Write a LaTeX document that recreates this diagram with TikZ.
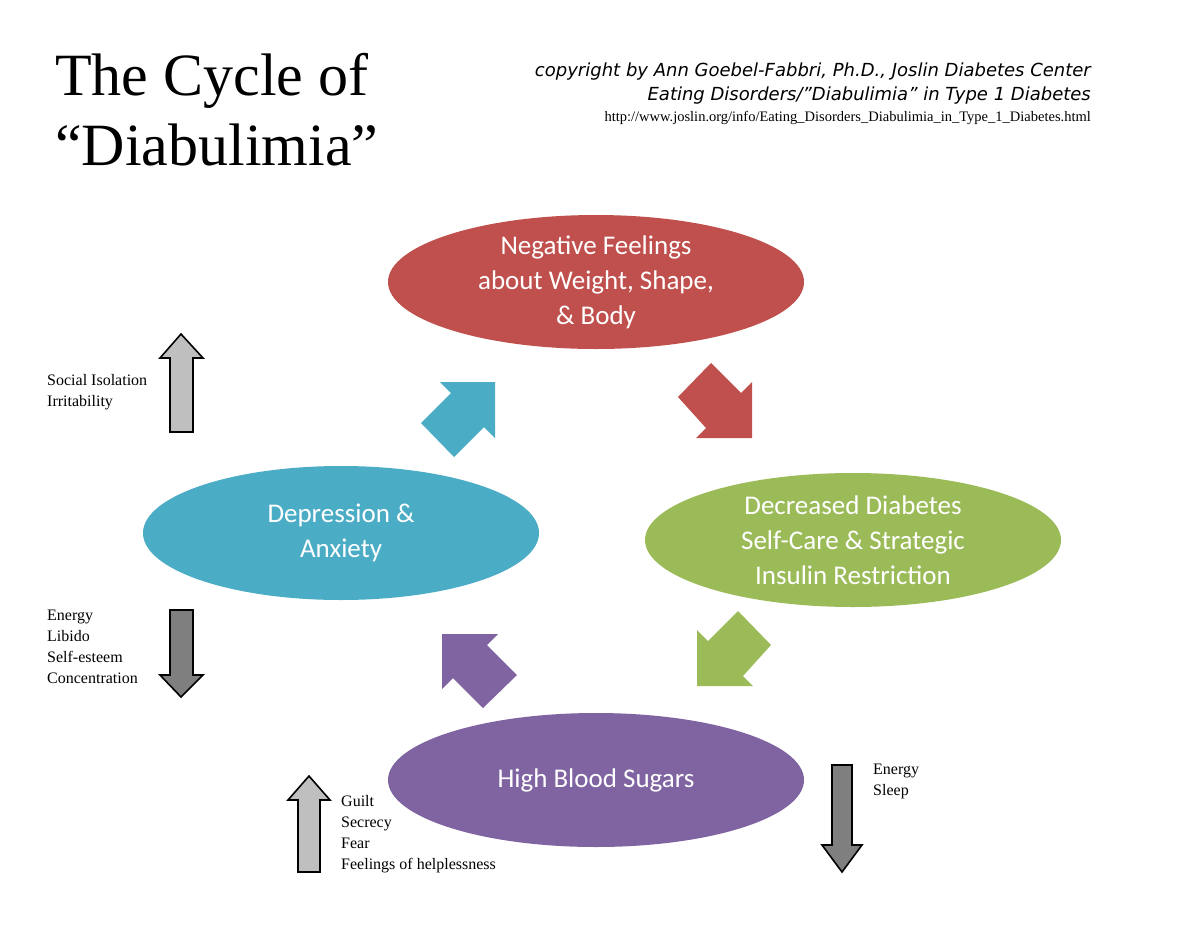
\documentclass[tikz,border=0pt]{standalone}
\usepackage{fontspec}
\setmainfont{Liberation Serif}
\newfontfamily\carlitofont{Carlito}
\newfontfamily\dvsfont{DejaVu Sans}
\usetikzlibrary{shapes.geometric}
\definecolor{cred}{HTML}{C0504D}
\definecolor{cgreen}{HTML}{9BBB59}
\definecolor{cblue}{HTML}{4BACC6}
\definecolor{cpurple}{HTML}{8064A2}
\definecolor{lgray}{HTML}{BFBFBF}
\definecolor{dgray}{HTML}{7F7F7F}
\begin{document}
\begin{tikzpicture}[x=1pt,y=-1pt,
  ell/.style={ellipse,minimum width=416pt,minimum height=134pt,inner sep=0pt,text=white,align=center,font=\carlitofont\fontsize{27}{35}\selectfont},
  side/.style={align=left,anchor=north west,inner sep=0pt,font=\fontsize{16}{21}\selectfont},
  garrow/.style={draw=black,line width=1.6pt,line join=miter}]
\useasboundingbox (0,0) rectangle (1200,927);
\fill[white] (0,0) rectangle (1200,927);
% title
\node[anchor=base west,inner sep=0pt,font=\fontsize{60}{60}\selectfont] (t1) at (55,95) {The Cycle of};
\node[anchor=base west,inner sep=0pt,font=\fontsize{60}{60}\selectfont] (t2) at (55,165) {“Diabulimia”};
\node[anchor=base east,inner sep=0pt,font=\dvsfont\itshape\fontsize{18}{18}\selectfont] (c1) at (1091,76) {copyright by Ann Goebel-Fabbri, Ph.D., Joslin Diabetes Center};
\node[anchor=base east,inner sep=0pt,font=\dvsfont\itshape\fontsize{18}{18}\selectfont] (c2) at (1091,100) {Eating Disorders/”Diabulimia” in Type 1 Diabetes};
\node[anchor=base east,inner sep=0pt,font=\fontsize{14.5}{15}\selectfont] (c3) at (1091,121) {http://www.joslin.org/info/Eating\_Disorders\_Diabulimia\_in\_Type\_1\_Diabetes.html};
% ellipses
\node[ell,fill=cred] (neg) at (596,282) {Negative Feelings\\about Weight, Shape,\\\& Body};
\node[ell,fill=cgreen] (dec) at (853,540) {Decreased Diabetes\\Self-Care \& Strategic\\Insulin Restriction};
\node[ell,fill=cblue,minimum width=396pt] (dep) at (341,533) {Depression \&\\Anxiety};
\node[ell,fill=cpurple] (hbs) at (596,780) {High Blood Sugars};
% block arrows
\fill[cred] (752,438) -- (752,382) -- (741,393) -- (711,363) -- (678,397) -- (706,428) -- (696,438) -- cycle;
\fill[cblue] (495,382) -- (440,382) -- (451,393) -- (421,423) -- (454,457) -- (484,427) -- (495,438) -- cycle;
\fill[cgreen] (697,686) -- (697,630) -- (708,641) -- (738,611) -- (771,645) -- (743,676) -- (753,686) -- cycle;
\fill[cpurple] (442,634) -- (498,634) -- (487,645) -- (517,675) -- (483,708) -- (453,678) -- (442,689) -- cycle;
% gray arrows
\draw[garrow,fill=lgray] (170,432) -- (170,358) -- (160,358) -- (181,334) -- (203,358) -- (193,358) -- (193,432) -- cycle;
\draw[garrow,fill=dgray] (170,610) -- (170,675) -- (160,675) -- (181,697) -- (203,675) -- (193,675) -- (193,610) -- cycle;
\draw[garrow,fill=lgray] (298,872) -- (298,800) -- (288,800) -- (309,776) -- (330,800) -- (320,800) -- (320,872) -- cycle;
\draw[garrow,fill=dgray] (832,765) -- (832,845) -- (822,845) -- (842,872) -- (862,845) -- (852,845) -- (852,765) -- cycle;
% side labels
\node[side] (s1) at (47,374) {Social Isolation\\Irritability};
\node[side] (s2) at (47,610) {Energy\\Libido\\Self-esteem\\Concentration};
\node[side] (s3) at (341,795) {Guilt\\Secrecy\\Fear\\Feelings of helplessness};
\node[side] (s4) at (873,764) {Energy\\Sleep};
\end{tikzpicture}
\end{document}
